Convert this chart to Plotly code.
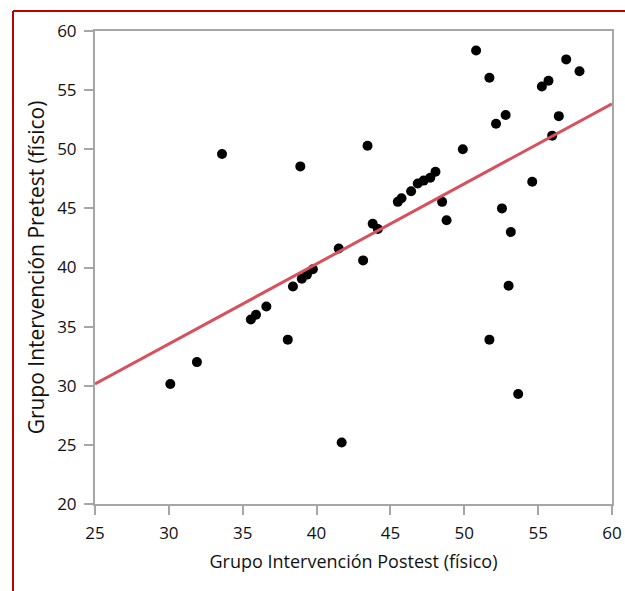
import plotly.graph_objects as go

# Data
post_x = [30.1, 31.9, 33.6, 35.55, 35.9, 36.6, 38.05, 38.4, 38.9, 39.0, 39.35, 39.75,
          41.5, 41.7, 43.15, 43.45, 43.8, 44.15, 45.5, 45.75, 46.4, 46.85, 47.25, 47.7,
          48.05, 48.5, 48.8, 49.9, 50.8, 51.7, 52.15, 52.8, 52.55, 51.7, 53.0, 53.15,
          53.65, 54.6, 55.25, 55.7, 55.95, 56.4, 56.9, 57.8]
pre_y = [30.15, 32.0, 49.6, 35.6, 36.0, 36.7, 33.9, 38.4, 48.55, 39.05, 39.4, 39.85,
         41.6, 25.2, 40.6, 50.3, 43.7, 43.25, 45.55, 45.85, 46.45, 47.1, 47.35, 47.6,
         48.1, 45.55, 44.0, 50.0, 58.35, 56.05, 52.15, 52.9, 45.0, 33.9, 38.45, 43.0,
         29.3, 47.25, 55.3, 55.8, 51.15, 52.8, 57.6, 56.6]
fit_x = [25, 60]
fit_y = [30.15, 53.85]

x_ticks = [25, 30, 35, 40, 45, 50, 55, 60]
y_ticks = [20, 25, 30, 35, 40, 45, 50, 55, 60]

FONT = "Open Sans"
AXC = "#a6a6a6"
TXT = "#111111"

fig = go.Figure()
fig.add_trace(go.Scatter(x=post_x, y=pre_y, mode="markers",
                         marker=dict(color="black", size=10, line=dict(width=0)),
                         showlegend=False, hoverinfo="x+y"))
fig.add_trace(go.Scatter(x=fit_x, y=fit_y, mode="lines",
                         line=dict(color="#d8505c", width=3),
                         showlegend=False))

axis_common = dict(showgrid=False, zeroline=False, showline=True, linecolor=AXC,
                   linewidth=2, mirror=True, ticks="outside", ticklen=9,
                   tickcolor=AXC, tickwidth=2, automargin=False,
                   tickfont=dict(family=FONT, size=17, color=TXT))

fig.update_xaxes(range=[25, 60], tickvals=x_ticks, ticktext=[str(v) for v in x_ticks],
                 ticklabelstandoff=4,
                 title=dict(text="Grupo Intervención Postest (físico)",
                            font=dict(family=FONT, size=18, color=TXT), standoff=12),
                 **axis_common)
fig.update_yaxes(range=[20, 60], tickvals=y_ticks, ticktext=[str(v) for v in y_ticks],
                 ticklabelstandoff=4,
                 title=dict(text="Grupo Intervención Pretest (físico)",
                            font=dict(family=FONT, size=21, color=TXT), standoff=7),
                 **axis_common)

# Red frame (partially cropped, left and top edges visible)
L, R, T, B = 95, 612, 31, 504
W, H = 625, 591
def px2x(px):
    return (px - L) / (R - L)
def py2y(py):
    return (B - py) / (B - T)
frame = dict(type="line", xref="paper", yref="paper",
             line=dict(color="#c00000", width=2), layer="above")
fig.add_shape(x0=px2x(13), x1=px2x(13), y0=py2y(640), y1=py2y(11), **frame)
fig.add_shape(x0=px2x(13), x1=px2x(700), y0=py2y(11), y1=py2y(11), **frame)

fig.update_layout(width=W, height=H, margin=dict(l=L, r=W - R, t=T, b=H - B),
                  plot_bgcolor="white", paper_bgcolor="white",
                  font=dict(family=FONT))

fig.write_html("out.html")
